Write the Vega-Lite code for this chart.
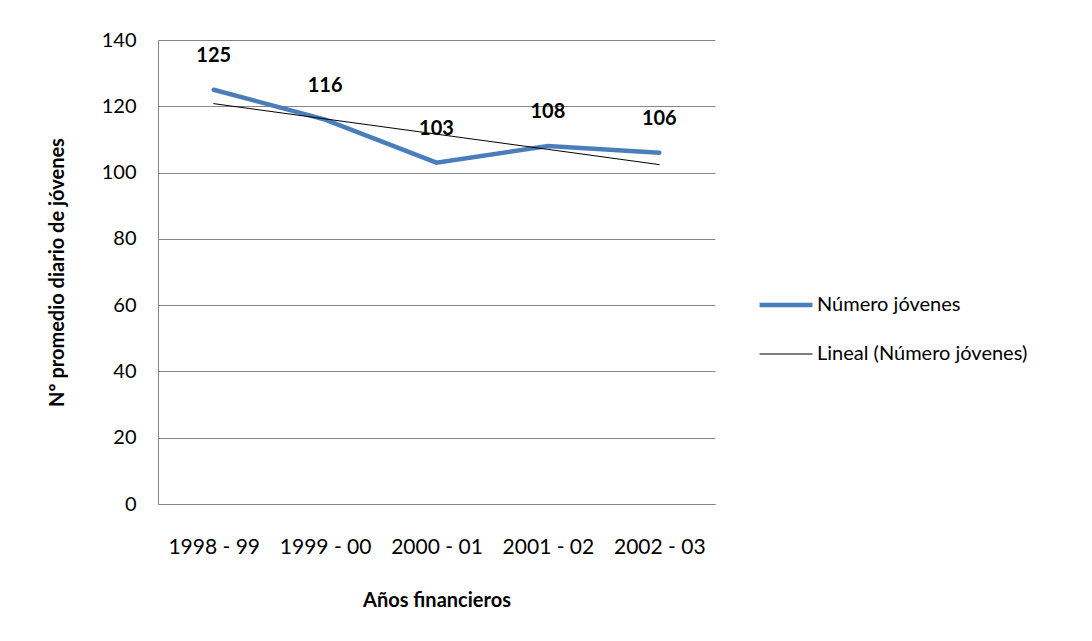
{
  "$schema": "https://vega.github.io/schema/vega-lite/v6.json",
  "autosize": {"type": "none"},
  "width": 557,
  "height": 464,
  "padding": {"left": 158, "top": 40, "right": 377, "bottom": 137},
  "background": "white",
  "config": {
    "font": "Lato",
    "view": {"stroke": null},
    "axis": {"labelFont": "Lato", "titleFont": "Lato", "labelColor": "#000000", "titleColor": "#000000"}
  },
  "data": {
    "values": [
      {"anio": "1998 - 99", "serie": "Número jóvenes", "valor": 125},
      {"anio": "1999 - 00", "serie": "Número jóvenes", "valor": 116},
      {"anio": "2000 - 01", "serie": "Número jóvenes", "valor": 103},
      {"anio": "2001 - 02", "serie": "Número jóvenes", "valor": 108},
      {"anio": "2002 - 03", "serie": "Número jóvenes", "valor": 106},
      {"anio": "1998 - 99", "serie": "Lineal (Número jóvenes)", "valor": 120.8},
      {"anio": "1999 - 00", "serie": "Lineal (Número jóvenes)", "valor": 116.2},
      {"anio": "2000 - 01", "serie": "Lineal (Número jóvenes)", "valor": 111.6},
      {"anio": "2001 - 02", "serie": "Lineal (Número jóvenes)", "valor": 107.0},
      {"anio": "2002 - 03", "serie": "Lineal (Número jóvenes)", "valor": 102.4}
    ]
  },
  "encoding": {
    "x": {
      "field": "anio", "type": "nominal", "sort": null,
      "scale": {"type": "point", "padding": 0.5},
      "axis": {
        "title": "Años financieros", "titleFontSize": 20, "titleFontWeight": "bold",
        "titleY": 96, "titleBaseline": "middle",
        "labelAngle": 0, "labelFontSize": 21, "labelPadding": 32, "ticks": false,
        "domainColor": "#868686", "domainWidth": 1, "grid": false
      }
    },
    "y": {
      "field": "valor", "type": "quantitative",
      "scale": {"domain": [0, 140], "nice": false},
      "axis": {
        "title": "Nº promedio diario de jóvenes", "titleFontSize": 20, "titleFontWeight": "bold",
        "titleX": -101, "titleY": 232, "titleAngle": -90, "titleAlign": "center", "titleBaseline": "middle",
        "values": [0, 20, 40, 60, 80, 100, 120, 140],
        "labelFontSize": 20, "labelPadding": 22, "ticks": false,
        "domainColor": "#868686", "gridColor": "#868686", "gridWidth": 1, "gridOpacity": 1
      }
    }
  },
  "layer": [
    {
      "mark": {"type": "line", "strokeCap": "round"},
      "encoding": {
        "color": {
          "field": "serie", "type": "nominal",
          "scale": {"domain": ["Número jóvenes", "Lineal (Número jóvenes)"], "range": ["#4a7ebb", "#000000"]},
          "legend": {
            "title": null, "orient": "none", "legendX": 599, "legendY": 236,
            "symbolType": "stroke", "symbolSize": 2800, "labelFontSize": 20, "labelFont": "Lato",
            "labelOffset": 2, "rowPadding": 12, "labelColor": "#000000", "labelLimit": 0
          }
        },
        "strokeWidth": {
          "field": "serie", "type": "nominal",
          "scale": {"domain": ["Número jóvenes", "Lineal (Número jóvenes)"], "range": [4.5, 1]},
          "legend": null
        }
      }
    },
    {
      "transform": [{"filter": "datum.serie === 'Número jóvenes'"}],
      "mark": {"type": "text", "dy": -34, "fontSize": 20, "fontWeight": "bold", "font": "Lato", "color": "#000000"},
      "encoding": {"text": {"field": "valor", "type": "quantitative"}}
    }
  ]
}
